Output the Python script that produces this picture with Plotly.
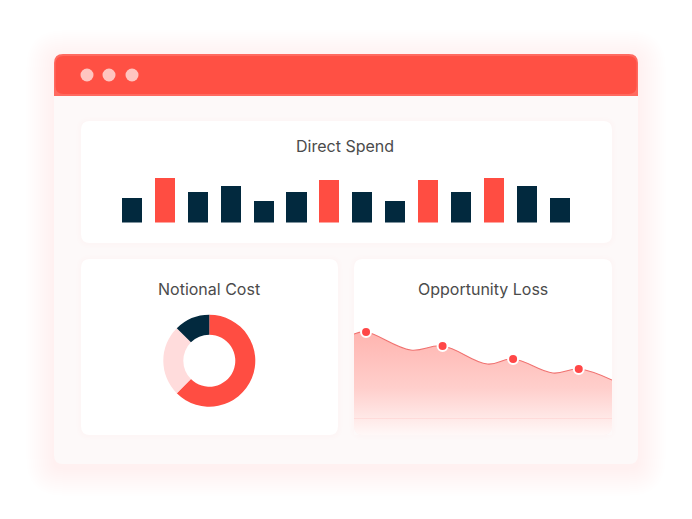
import plotly.graph_objects as go

W, H = 692, 519

# ---------------- data ----------------
spend_labels = [f"P{i}" for i in range(1, 15)]
spend_values = [25, 45, 30.5, 37, 22, 30.5, 43, 30.5, 22, 43, 30.5, 45, 37, 25]
spend_highlight = [0, 1, 0, 0, 0, 0, 1, 0, 0, 1, 0, 1, 0, 0]

cost_labels = ["Main", "Secondary", "Other"]
cost_values = [62.5, 25, 12.5]

loss_x = [0, 0.42, 1.98, 3.09, 4.65, 5.55, 6.94, 7.84, 9.0]
loss_y = [101, 103, 85, 89, 71, 76, 62, 66, 55]
loss_marker_idx = [1, 3, 5, 7]

titles = ["Direct Spend", "Notional Cost", "Opportunity Loss"]

RED = "#ff4d42"
NAVY = "#02293e"
PINK = "#ffdcdc"


def X(px):
    return px / W


def Y(py):
    return 1 - py / H


def rrect(x0, y0, x1, y1, r, top=True, bottom=True):
    rt = r if top else 0
    rb = r if bottom else 0
    p = f"M {X(x0 + rt)},{Y(y0)} L {X(x1 - rt)},{Y(y0)} "
    p += f"Q {X(x1)},{Y(y0)} {X(x1)},{Y(y0 + rt)} "
    p += f"L {X(x1)},{Y(y1 - rb)} Q {X(x1)},{Y(y1)} {X(x1 - rb)},{Y(y1)} "
    p += f"L {X(x0 + rb)},{Y(y1)} Q {X(x0)},{Y(y1)} {X(x0)},{Y(y1 - rb)} "
    p += f"L {X(x0)},{Y(y0 + rt)} Q {X(x0)},{Y(y0)} {X(x0 + rt)},{Y(y0)} Z"
    return p


shapes = []


def add_rect(x0, y0, x1, y1, r, color, top=True, bottom=True, layer="below"):
    shapes.append(dict(type="path", path=rrect(x0, y0, x1, y1, r, top, bottom),
                       xref="paper", yref="paper", fillcolor=color,
                       line=dict(width=0), layer=layer))


def glow(x0, y0, x1, y1, r, n, step, alpha, dy=0):
    for i in range(n, 0, -1):
        d = i * step
        add_rect(x0 - d, y0 - d + dy, x1 + d, y1 + d + dy, r + d,
                 f"rgba(240,110,100,{alpha})")


# window glow and body
glow(54, 54, 638, 464, 9, 14, 2.0, 0.0055, dy=4)
add_rect(54, 54, 638, 464, 9, "#fdf9f9")
# title bar
add_rect(54, 54, 638, 96, 9, "#ff6a60", bottom=False)
add_rect(55.5, 56, 636.5, 94, 8, "#ff5044")
# window dots
for cx in [87, 109, 132]:
    shapes.append(dict(type="circle", xref="paper", yref="paper",
                       x0=X(cx - 6.5), x1=X(cx + 6.5), y0=Y(75 + 6.5), y1=Y(75 - 6.5),
                       fillcolor="#ffc5c0", line=dict(width=0), layer="below"))

# cards
cards = [(81, 121, 612, 243), (81, 259, 338, 435), (354, 259, 612, 435)]
for c in cards:
    glow(*c, 9, 3, 1.5, 0.007, dy=0.5)
for c in cards:
    add_rect(*c, 9, "#ffffff")

# faint line in loss chart
shapes.append(dict(type="line", xref="paper", yref="paper", x0=X(354), x1=X(612),
                   y0=Y(418.5), y1=Y(418.5),
                   line=dict(color="rgba(255,140,140,0.15)", width=1), layer="above"))

fig = go.Figure()

# ---- bars ----
bar_colors = [RED if h else NAVY for h in spend_highlight]
fig.add_trace(go.Bar(x=spend_labels, y=spend_values, marker=dict(color=bar_colors, line=dict(width=0)),
                     width=0.61, xaxis="x", yaxis="y", hoverinfo="skip", showlegend=False))

# ---- donut ----
cx, cy, R = 209.3, 360.7, 46
fig.add_trace(go.Pie(labels=cost_labels, values=cost_values, hole=0.565, sort=False,
                     direction="clockwise", rotation=0, textinfo="none",
                     marker=dict(colors=[RED, PINK, NAVY], line=dict(width=0)),
                     domain=dict(x=[X(cx - R), X(cx + R)], y=[Y(cy + R), Y(cy - R)]),
                     showlegend=False, hoverinfo="skip"))

# ---- area ----
fig.add_trace(go.Scatter(x=loss_x, y=loss_y, mode="lines",
                         line=dict(color="#f07270", width=1.1, shape="spline", smoothing=1.1),
                         fill="tozeroy",
                         fillgradient=dict(type="vertical",
                                           colorscale=[[0, "rgba(255,77,66,0.04)"],
                                                       [0.17, "rgba(255,77,66,0.13)"],
                                                       [0.45, "rgba(255,77,66,0.27)"],
                                                       [1, "rgba(255,77,66,0.42)"]]),
                         xaxis="x2", yaxis="y2", hoverinfo="skip", showlegend=False))
fig.add_trace(go.Scatter(x=[loss_x[i] for i in loss_marker_idx], y=[loss_y[i] for i in loss_marker_idx],
                         mode="markers", marker=dict(color="#ff4747", size=10, line=dict(color="white", width=2)),
                         xaxis="x2", yaxis="y2", hoverinfo="skip", showlegend=False, cliponaxis=False))

# mask for rounded bottom corners of the area card
for (ax, sx) in [(354, 1), (612, -1)]:
    r = 9
    p = (f"M {X(ax)},{Y(435)} L {X(ax)},{Y(435 - r)} Q {X(ax)},{Y(435)} {X(ax + sx * r)},{Y(435)} Z")
    shapes.append(dict(type="path", path=p, xref="paper", yref="paper",
                       fillcolor="#fdf9f9", line=dict(width=0), layer="above"))

step = 32.9
bx0 = 132 - step / 2
bx1 = bx0 + step * 14
annotations = []
for t, (tx, ty) in zip(titles, [(345, 145.5), (209, 288.5), (483, 288.5)]):
    annotations.append(dict(text=t, x=X(tx), y=Y(ty), xref="paper", yref="paper", showarrow=False,
                            xanchor="center", yanchor="middle",
                            font=dict(family="Inter, Roboto, sans-serif", size=16, color="#4b4b4b")))

fig.update_layout(
    width=W, height=H, margin=dict(l=0, r=0, t=0, b=0),
    paper_bgcolor="white", plot_bgcolor="rgba(0,0,0,0)",
    shapes=shapes, annotations=annotations,
    xaxis=dict(domain=[X(bx0), X(bx1)], range=[-0.5, 13.5], visible=False, fixedrange=True),
    yaxis=dict(domain=[Y(222.5), Y(162.5)], range=[0, 60], visible=False, fixedrange=True),
    xaxis2=dict(domain=[X(354), X(612)], range=[0, 9], visible=False, fixedrange=True),
    yaxis2=dict(domain=[Y(435), Y(315)], range=[0, 120], visible=False, fixedrange=True),
    bargap=0,
)

fig.write_html("out.html", config=dict(displayModeBar=False, staticPlot=True),
               post_script="document.body.style.margin='0';document.body.style.overflow='hidden';")
